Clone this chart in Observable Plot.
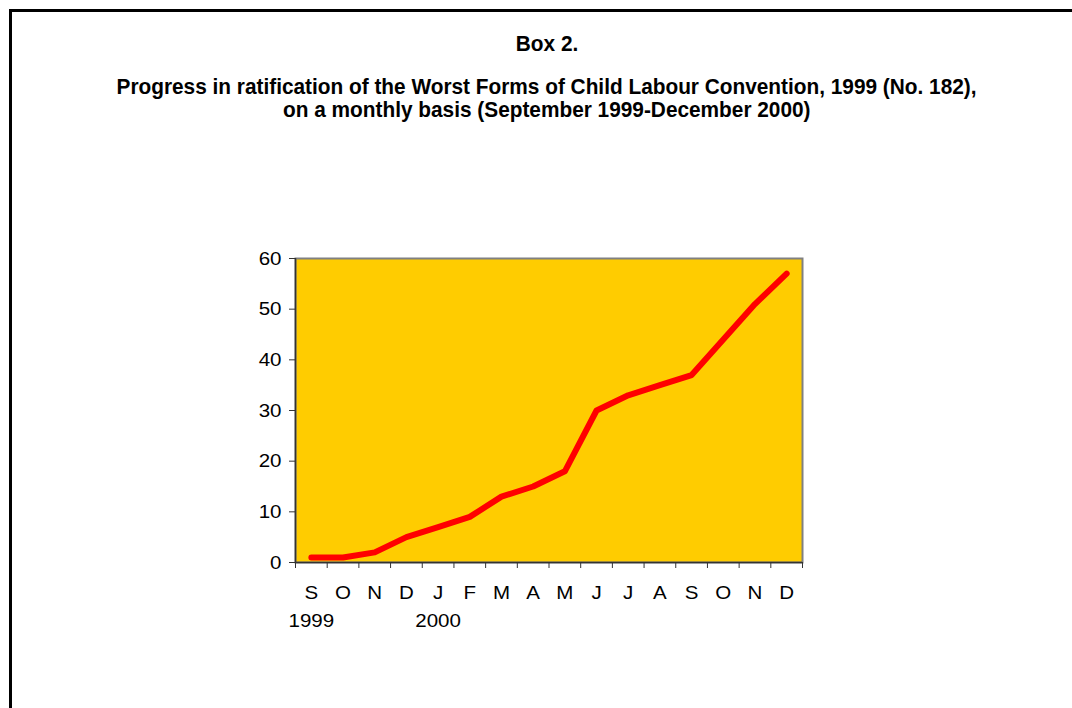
<!DOCTYPE html>
<html>
<head>
<meta charset="utf-8">
<script src="https://cdn.jsdelivr.net/npm/d3@7"></script>
<script src="https://cdn.jsdelivr.net/npm/@observablehq/plot@0.6"></script>
<style>
  html, body { margin: 0; padding: 0; background: #fff; }
  #page { position: relative; width: 1072px; height: 708px; overflow: hidden; background: #fff; }
  #border { position: absolute; left: 9px; top: 9px; right: -10px; bottom: -10px; border-left: 3px solid #000; border-top: 3px solid #000; }
  .ttl { position: absolute; left: 0; width: 1094px; text-align: center; font-family: "Liberation Sans", Arial, sans-serif; font-weight: bold; font-size: 22px; color: #000; line-height: 22px; white-space: nowrap; }
  .ttl span { display: inline-block; transform-origin: center; }
  #chart { position: absolute; left: 0; top: 200px; }
</style>
</head>
<body>
<div id="page">
  <div id="border"></div>
  <div class="ttl" style="top:33px"><span>Box 2.</span></div>
  <div class="ttl" style="top:76px"><span id="t1">Progress in ratification of the Worst Forms of Child Labour Convention, 1999 (No. 182),</span></div>
  <div class="ttl" style="top:99px"><span>on a monthly basis (September 1999-December 2000)</span></div>
  <div id="chart"></div>
</div>
<script>
const months = ["S","O","N","D","J","F","M","A","M","J","J","A","S","O","N","D"];
const ratifications = [1,1,2,5,7,9,13,15,18,30,33,35,37,44,51,57];
const yearLabels = ["1999","2000"];
const yearAt = [0,4];
const yTicks = [0,10,20,30,40,50,60];

// condensed title (Arial Narrow look)
const w1 = document.getElementById("t1").getBoundingClientRect().width;
const sx = 860 / w1;
document.querySelectorAll(".ttl span").forEach(s => s.style.transform = `scaleX(${sx})`);

const data = months.map((m,i)=>({i, m, v: ratifications[i]}));
const years = yearLabels.map((y,k)=>({i: yearAt[k], y}));
const bounds = d3.range(months.length+1).map(k=>k-0.5);

const font = "'Liberation Sans', Arial, sans-serif";
const chart = Plot.plot({
  width: 1072,
  height: 442,
  marginLeft: 295,
  marginRight: 270,
  marginTop: 58,
  marginBottom: 80,
  style: {fontFamily: font, fontSize: "19px", color: "#000", background: "transparent"},
  x: {domain: [-0.5, months.length-0.5]},
  y: {domain: [0, 60]},
  marks: [
    Plot.frame({fill: "#FFCC00", stroke: "#808080", strokeWidth: 2}),
    Plot.axisY({ticks: yTicks, tickSize: 6, tickPadding: 8, label: null, stroke: "#333", fontSize: 19}),
    Plot.ruleX([-0.5], {stroke: "#333", strokeWidth: 1.5}),
    Plot.ruleY([0], {stroke: "#333", strokeWidth: 1.5}),
    Plot.axisX({ticks: bounds, tickFormat: () => "", tickSize: 6, label: null, stroke: "#333"}),
    Plot.text(data, {x: "i", y: 0, text: "m", dy: 30, fontSize: 19, fill: "#000"}),
    Plot.text(years, {x: "i", y: 0, text: "y", dy: 58, fontSize: 19, fill: "#000"}),
    Plot.line(data, {x: "i", y: "v", stroke: "#FF0000", strokeWidth: 6, strokeLinejoin: "round", strokeLinecap: "round"})
  ]
});
document.getElementById("chart").appendChild(chart);
// slightly wide tick lettering as in the reference
chart.querySelectorAll("text").forEach(t => {
  const L = t.getComputedTextLength();
  if (L > 0) {
    t.setAttribute("textLength", (L * 1.08).toFixed(2));
    t.setAttribute("lengthAdjust", "spacingAndGlyphs");
  }
});
</script>
</body>
</html>
